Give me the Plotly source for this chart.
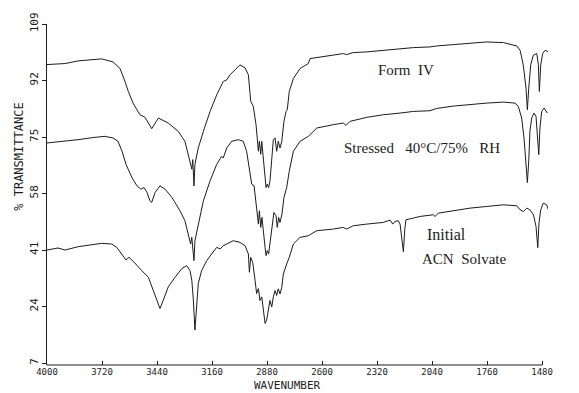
import plotly.graph_objects as go

# IR spectra (wavenumber in cm-1, % transmittance)
form4_wn = [4000, 3908, 3842, 3722, 3664, 3628, 3603, 3586, 3562, 3527, 3501, 3467, 3433, 3383,
            3332, 3298, 3277, 3263, 3258, 3252, 3247, 3230, 3204, 3170, 3136, 3103, 3085, 3069,
            3043, 3018, 2992, 2975, 2963, 2950, 2936, 2924, 2919, 2912, 2907, 2899, 2890, 2885,
            2879, 2872, 2865, 2856, 2848, 2839, 2831, 2823, 2814, 2805, 2794, 2783, 2777, 2767,
            2746, 2712, 2670, 2661, 2610, 2543, 2492, 2475, 2441, 2373, 2288, 2203, 2135, 2051,
            2016, 1932, 1847, 1762, 1677, 1609, 1592, 1576, 1562, 1555, 1548, 1538, 1525, 1507,
            1499, 1494, 1487, 1477, 1465, 1448]
form4_t = [96.8, 97.1, 97.9, 98.5, 97.6, 95.6, 91.7, 88.7, 85.2, 81.7, 80.9, 77.5, 80.7, 79.2,
           76.7, 73.7, 68.7, 65.3, 68.2, 60.3, 66.8, 71.7, 76.7, 82.7, 87.7, 91.7, 92.2, 93.7,
           95.2, 96.7, 95.8, 93.7, 85.7, 84.2, 78.7, 70.7, 73.7, 69.8, 73.7, 68.7, 63.8, 59.8,
           60.8, 59.8, 61.8, 68.7, 74.2, 74.7, 70.7, 73.7, 71.7, 73.7, 79.7, 82.7, 83.2, 88.7,
           92.6, 95.6, 97.1, 98.6, 99.1, 99.6, 100.1, 99.8, 100.4, 100.6, 101.1, 101.6, 101.9, 102.1,
           102.4, 102.8, 103.1, 103.6, 103.4, 102.4, 101.1, 96.7, 89.7, 83.2, 89.7, 96.7, 99.6, 100.1,
           96.7, 88.7, 96.7, 100.1, 101.1, 100.6]

stressed_wn = [4000, 3908, 3842, 3756, 3705, 3664, 3639, 3618, 3598, 3567, 3542, 3522, 3506, 3491,
               3476, 3467, 3450, 3425, 3399, 3364, 3323, 3298, 3281, 3269, 3263, 3258, 3252, 3247,
               3230, 3204, 3170, 3136, 3111, 3103, 3085, 3060, 3026, 3001, 2984, 2970, 2958, 2946,
               2933, 2924, 2919, 2912, 2906, 2899, 2890, 2885, 2879, 2872, 2865, 2856, 2845, 2834,
               2828, 2821, 2814, 2804, 2794, 2780, 2767, 2746, 2712, 2670, 2627, 2543, 2492, 2478,
               2458, 2373, 2288, 2203, 2135, 2051, 2016, 1932, 1847, 1762, 1677, 1618, 1601, 1584,
               1572, 1562, 1555, 1548, 1542, 1533, 1521, 1511, 1504, 1497, 1491, 1482, 1470, 1453]
stressed_t = [73.2, 73.7, 74.2, 74.9, 75.2, 74.7, 73.7, 70.7, 66.8, 62.7, 60.3, 59.3, 59.8, 58.3,
              55.8, 55.3, 58.3, 60.3, 59.3, 56.8, 52.8, 49.8, 45.8, 42.8, 44.8, 41.8, 37.8, 43.8,
              48.8, 55.8, 61.8, 66.8, 69.2, 68.7, 71.7, 73.7, 74.2, 73.7, 70.7, 65.7, 60.8, 60.3,
              53.8, 48.8, 52.8, 47.8, 50.8, 45.8, 41.8, 39.3, 40.8, 39.8, 42.8, 47.8, 52.3, 51.3,
              47.8, 50.8, 49.3, 51.8, 56.8, 59.8, 64.7, 70.7, 73.7, 75.2, 77.7, 78.7, 79.2, 78.5,
              79.7, 80.9, 81.7, 82.2, 82.7, 82.9, 83.6, 84.3, 84.8, 85.2, 85.5, 85.2, 84.2, 80.7,
              74.7, 66.8, 61.3, 67.8, 76.7, 80.7, 82.2, 81.2, 76.7, 69.7, 77.7, 82.7, 83.7, 82.2]

initial_wn = [4000, 3944, 3908, 3841, 3722, 3671, 3645, 3620, 3598, 3583, 3561, 3518, 3484, 3459,
              3433, 3425, 3408, 3383, 3348, 3314, 3289, 3272, 3263, 3255, 3247, 3238, 3230, 3213,
              3187, 3162, 3136, 3119, 3103, 3085, 3052, 3018, 2992, 2975, 2970, 2963, 2953, 2941,
              2933, 2924, 2916, 2907, 2899, 2890, 2882, 2873, 2865, 2856, 2848, 2839, 2831, 2823,
              2814, 2805, 2797, 2780, 2767, 2746, 2712, 2670, 2627, 2543, 2492, 2475, 2441, 2373,
              2288, 2254, 2240, 2229, 2212, 2203, 2195, 2186, 2179, 2173, 2135, 2101, 2034, 2025,
              2008, 1932, 1847, 1762, 1677, 1609, 1592, 1575, 1558, 1542, 1524, 1511, 1502, 1496,
              1487, 1474, 1457, 1448]
initial_t = [41.0, 41.6, 41.0, 42.0, 43.0, 42.8, 41.8, 39.8, 38.0, 38.8, 37.6, 34.8, 32.8, 28.8,
             24.4, 23.4, 25.9, 29.9, 32.8, 35.4, 36.3, 34.8, 31.9, 26.0, 16.9, 23.9, 30.9, 34.8,
             37.8, 39.8, 41.8, 41.3, 42.3, 42.8, 43.8, 43.3, 42.3, 39.8, 34.3, 38.8, 37.3, 31.9,
             27.9, 29.4, 25.8, 26.9, 22.9, 18.9, 19.9, 23.9, 25.8, 23.9, 26.9, 28.8, 27.3, 29.3,
             27.8, 29.8, 33.8, 36.8, 38.8, 42.8, 44.8, 45.3, 46.8, 47.3, 47.8, 47.3, 48.3, 48.8,
             49.3, 50.0, 48.8, 49.6, 49.8, 48.8, 44.8, 40.5, 47.1, 50.1, 50.6, 51.1, 51.6, 51.1,
             52.1, 52.9, 53.6, 54.1, 54.6, 54.3, 53.1, 52.6, 53.6, 53.1, 51.6, 48.1, 41.7, 49.1,
             53.1, 55.1, 54.6, 53.1]

x_ticks = [4000, 3720, 3440, 3160, 2880, 2600, 2320, 2040, 1760, 1480]
y_ticks = [7, 24, 41, 58, 75, 92, 109]

ink = "#1c1c1c"
plotter_font = dict(family="DejaVu Sans Mono", size=9, color=ink)
title_font = dict(family="DejaVu Sans Mono", size=11, color=ink)
serif_font = dict(family="Liberation Serif", size=15, color=ink)

fig = go.Figure()
for wn, t in [(form4_wn, form4_t), (stressed_wn, stressed_t), (initial_wn, initial_t)]:
    fig.add_trace(go.Scatter(x=wn, y=t, mode="lines",
                             line=dict(color=ink, width=1.0), showlegend=False,
                             hoverinfo="skip"))

# spectrum labels
fig.add_annotation(x=2175, y=95.2, text="Form  IV", showarrow=False, font=serif_font)
fig.add_annotation(x=2093, y=71.7, text="Stressed   40°C/75%   RH", showarrow=False,
                   font=serif_font)
fig.add_annotation(x=2076, y=45.8, text="Initial", showarrow=False, xanchor="left",
                   font=dict(family="Liberation Serif", size=16, color=ink))
fig.add_annotation(x=2101, y=38.3, text="ACN  Solvate", showarrow=False, xanchor="left",
                   font=serif_font)

# axis titles
fig.add_annotation(xref="paper", yref="paper", x=0.481, y=-0.061, text="WAVENUMBER",
                   xanchor="center", yanchor="middle", showarrow=False, font=title_font)
fig.add_annotation(xref="paper", yref="paper", x=-0.055, y=0.612, text="% TRANSMITTANCE",
                   xanchor="center", yanchor="middle", showarrow=False, textangle=-90,
                   font=dict(family="DejaVu Sans Mono", size=12, color=ink))

# bottom axis line ends at the last labelled wavenumber
fig.add_shape(type="line", xref="x", yref="paper", x0=4000, x1=1480, y0=0, y1=0,
              line=dict(color=ink, width=1.2))

fig.update_xaxes(range=[4000, 1450], tickvals=x_ticks, ticktext=[str(v) for v in x_ticks],
                 ticks="inside", ticklen=4, tickcolor=ink, showline=False, showgrid=False,
                 zeroline=False, tickfont=plotter_font)
fig.update_yaxes(range=[6.4, 109], tickvals=y_ticks, ticks="outside", ticklen=4,
                 tickcolor=ink, showline=True, linecolor=ink, linewidth=1.2, showgrid=False,
                 zeroline=False, tickangle=-90, tickfont=dict(family="DejaVu Sans Mono",
                                                              size=11, color=ink))

fig.update_layout(width=579, height=393, margin=dict(l=47, r=31, t=22, b=28),
                  plot_bgcolor="white", paper_bgcolor="white")

fig.write_html("out.html")
